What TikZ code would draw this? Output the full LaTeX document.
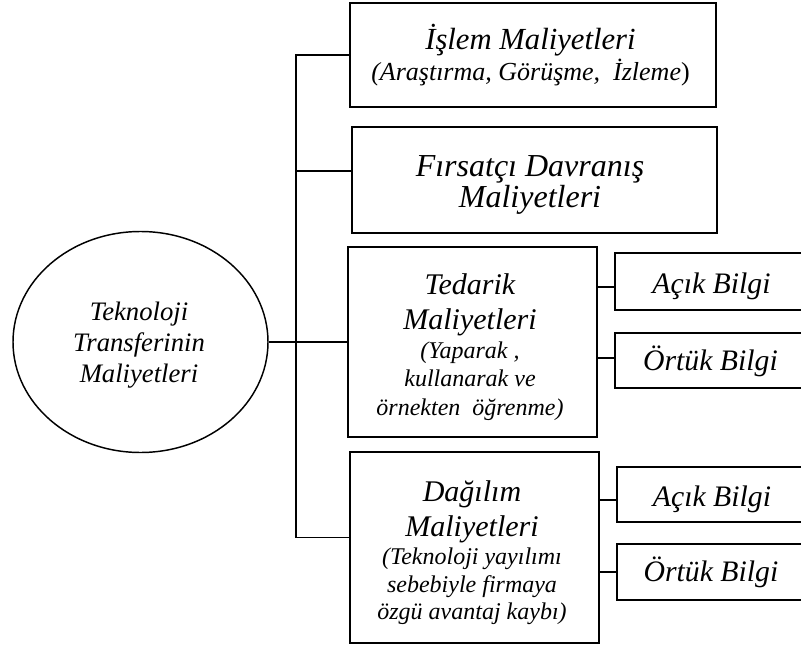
\documentclass[tikz,border=0pt]{standalone}
\usepackage{fontspec}
\setmainfont{Liberation Serif}
\usetikzlibrary{shapes.geometric}

% font sizes used in the chart
\newcommand\headf{\fontsize{22.5}{26}\selectfont}
\newcommand\leaff{\fontsize{22.3}{26}\selectfont}

\tikzset{
  every node/.style={font=\itshape, inner sep=0pt, align=center},
  box/.style={draw, line width=1.1pt, rectangle},
  root/.style={draw, line width=1.1pt, ellipse},
  link/.style={line width=1.1pt},
  leaftext/.style={anchor=base, font=\itshape\leaff},
}

\begin{document}
\begin{tikzpicture}[x=0.75pt, y=-0.75pt]
  \useasboundingbox (0,0) rectangle (801,646);
  \clip (0,0) rectangle (801,646);

  % central ellipse
  \node[root, minimum width=191.25pt, minimum height=165.75pt] (e) at (140.5,342) {};
  \node[font=\itshape\fontsize{20}{23.25}\selectfont] (et) at (139,345)
    {Teknoloji\\Transferinin\\Maliyetleri};

  % cost categories
  \node[box, minimum width=274.5pt, minimum height=78pt] (b1) at (533,55) {};
  \node[font=\itshape\fontsize{19.5}{23.25}\selectfont] (b1t) at (530.5,55)
    {{\fontsize{23}{23.25}\selectfont İşlem Maliyetleri}\\(Araştırma, Görüşme,\ \ İzleme{\upshape )}};

  \node[box, minimum width=273.75pt, minimum height=79.5pt] (b2) at (534.5,180) {};
  \node[font=\itshape\fontsize{24}{23.25}\selectfont] (b2t) at (530,184.5)
    {Fırsatçı Davranış\\Maliyetleri};

  \node[box, minimum width=186.75pt, minimum height=142.5pt] (b3) at (472.5,342) {};
  \node[font=\itshape\fontsize{18}{21.4}\selectfont] (b3t) at (470,347.3)
    {{\headf Tedarik}\\[4.85pt]{\headf Maliyetleri}\\(Yaparak ,\\kullanarak ve\\örnekten\ \ öğrenme)};

  \node[box, minimum width=186.75pt, minimum height=143.25pt] (b4) at (474.5,547.5) {};
  \node[font=\itshape\fontsize{18}{20.75}\selectfont] (b4t) at (472,553)
    {{\headf Dağılım}\\[5.5pt]{\headf Maliyetleri}\\(Teknoloji yayılımı\\sebebiyle firmaya\\özgü avantaj kaybı)};

  % knowledge types (right edges run past the page)
  \node[box, minimum width=144pt, minimum height=42.75pt] (a1) at (711,281.5) {};
  \node[leaftext] (a1t) at (711.5,293) {Açık Bilgi};
  \node[box, minimum width=144pt, minimum height=41.25pt] (o1) at (711,360.5) {};
  \node[leaftext] (o1t) at (710.5,370) {Örtük Bilgi};
  \node[box, minimum width=142.5pt, minimum height=41.25pt] (a2) at (712,494.5) {};
  \node[leaftext] (a2t) at (712,506) {Açık Bilgi};
  \node[box, minimum width=142.5pt, minimum height=42pt] (o2) at (712,572) {};
  \node[leaftext] (o2t) at (711,581.7) {Örtük Bilgi};

  % attachment points of the connectors on the boxes
  \coordinate (trunk) at (296,342);
  \coordinate (b2in) at ([yshift=6.75pt]b2.west);
  \coordinate (b4in) at ([yshift=7.5pt]b4.west);
  \coordinate (a1in) at ([yshift=-4.1pt]a1.west);
  \coordinate (o1in) at ([yshift=1.9pt]o1.west);
  \coordinate (a2in) at ([yshift=-4.1pt]a2.west);
  \coordinate (o2in) at (o2.west);

  % connectors
  \draw[link] (b1.west) -| (trunk |- b4in) -- (b4in);
  \draw[link] (b2in) -- (b2in -| trunk);
  \draw[link] (e.east) -- (b3.west);
  \draw[link] (a1in) -- (a1in -| b3.east);
  \draw[link] (o1in) -- (o1in -| b3.east);
  \draw[link] (a2in) -- (a2in -| b4.east);
  \draw[link] (o2in) -- (o2in -| b4.east);
\end{tikzpicture}
\end{document}
